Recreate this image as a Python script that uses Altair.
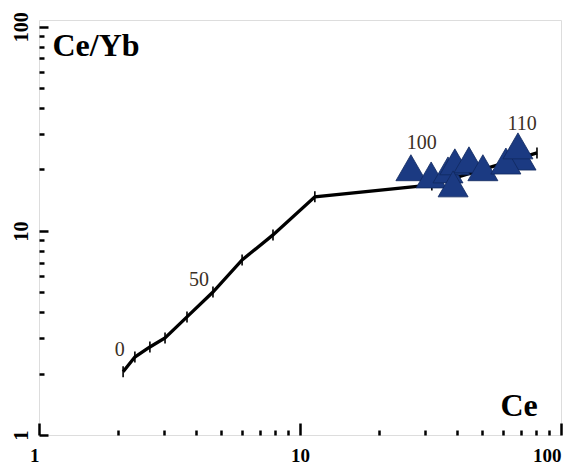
import altair as alt
import pandas as pd

# ---- data ----
curve_f = [0, 10, 20, 30, 40, 50, 60, 70, 80, 100, 110]
curve_ce = [2.10, 2.33, 2.66, 3.04, 3.69, 4.64, 6.00, 7.88, 11.4, 32.0, 80.9]
curve_ratio = [2.04, 2.41, 2.70, 2.99, 3.79, 5.02, 7.21, 9.56, 14.7, 16.8, 24.1]

label_text = ["0", "50", "100", "110"]
label_ce = [2.04, 4.10, 29.3, 70.9]
label_ratio = [2.61, 5.75, 27.0, 33.4]

sample_ce = [26.6, 31.8, 36.9, 39.2, 44.4, 38.6, 50.2, 70.3, 61.5, 68.4]
sample_ratio = [20.4, 18.8, 19.9, 21.8, 22.3, 17.0, 20.4, 23.0, 22.0, 26.1]

tick_values = [1, 2, 3, 4, 5, 6, 7, 8, 9, 10, 20, 30, 40, 50, 60, 70, 80, 90, 100]
major_values = [1, 10, 100]

W, H = 522, 415
SERIF = "Liberation Serif"

curve = pd.DataFrame({"f": curve_f, "ce": curve_ce, "ratio": curve_ratio})
labels = pd.DataFrame({"t": label_text, "ce": label_ce, "ratio": label_ratio})
samples = pd.DataFrame({"ce": sample_ce, "ratio": sample_ratio})

xs = alt.Scale(type="log", domain=[1, 100], nice=False)
ys = alt.Scale(type="log", domain=[1, 108], nice=False)

major_test = "datum.value == 1 || datum.value == 10 || datum.value == 100"

x_inner = alt.Axis(orient="top", offset=-H, values=tick_values, labels=False,
                   domain=False, grid=False, title=None, tickColor="black",
                   tickWidth=2.5,
                   tickSize={"condition": {"test": major_test, "value": 12}, "value": 5})
y_inner = alt.Axis(orient="right", offset=-W, values=tick_values, labels=False,
                   domain=False, grid=False, title=None, tickColor="black",
                   tickWidth=2.5,
                   tickSize={"condition": {"test": major_test, "value": 9}, "value": 5})

x_lab = alt.Axis(orient="bottom", values=major_values, ticks=False, tickSize=0,
                 domain=False, grid=False, format="d",
                 labelFont=SERIF, labelFontWeight="bold", labelFontSize=19,
                 labelColor="black", labelPadding=11, labelBaseline="top",
                 labelFlush=False,
                 labelAlign={"condition": {"test": "datum.value == 10", "value": "center"},
                             "value": "right"},
                 title="Ce", titleFont=SERIF, titleFontWeight="bold", titleFontSize=32,
                 titleColor="black", titleAngle=0, titleAlign="left",
                 titleBaseline="alphabetic", titleX=461, titleY=-20)
y_lab = alt.Axis(orient="left", values=major_values, ticks=False, tickSize=0,
                 domain=False, grid=False, format="d",
                 labelFont=SERIF, labelFontWeight="bold", labelFontSize=20,
                 labelColor="black", labelPadding=8, labelAngle=270,
                 labelAlign="center", labelBaseline="bottom", labelFlush=False,
                 title="Ce/Yb", titleFont=SERIF, titleFontWeight="bold", titleFontSize=32,
                 titleColor="black", titleAngle=0, titleAlign="left",
                 titleBaseline="alphabetic", titleX=13, titleY=35)

line = alt.Chart(curve).mark_line(color="black", strokeWidth=3.3).encode(
    x=alt.X("ce:Q", scale=xs, axis=x_inner),
    y=alt.Y("ratio:Q", scale=ys, axis=y_inner),
    order="f:Q",
)

ticks = alt.Chart(curve).mark_point(shape="M0,-1V1", size=121, color="black",
                                     filled=False, strokeWidth=1.6, opacity=1).encode(
    x=alt.X("ce:Q", scale=xs, axis=None),
    y=alt.Y("ratio:Q", scale=ys, axis=None),
)

tri = alt.Chart(samples).mark_point(shape="triangle-up", size=900, filled=True,
                                     fill="#1b3a82", stroke="#10285e", strokeWidth=0.8,
                                     opacity=1).encode(
    x=alt.X("ce:Q", scale=xs, axis=x_lab),
    y=alt.Y("ratio:Q", scale=ys, axis=y_lab),
)

txt = alt.Chart(labels).mark_text(font=SERIF, fontSize=20, color="#3b2f25",
                                   align="center", baseline="middle").encode(
    x=alt.X("ce:Q", scale=xs, axis=None),
    y=alt.Y("ratio:Q", scale=ys, axis=None),
    text="t:N",
)

chart = alt.layer(line, ticks, tri, txt).resolve_axis(
    x="independent", y="independent"
).properties(
    width=W, height=H,
    autosize=alt.AutoSizeParams(type="none"),
    padding={"left": 39, "top": 20, "right": 9, "bottom": 29},
).configure_view(stroke="black", strokeWidth=4.5).configure(background="white")

chart.save("out.html", embed_options={"renderer": "svg", "actions": False})
